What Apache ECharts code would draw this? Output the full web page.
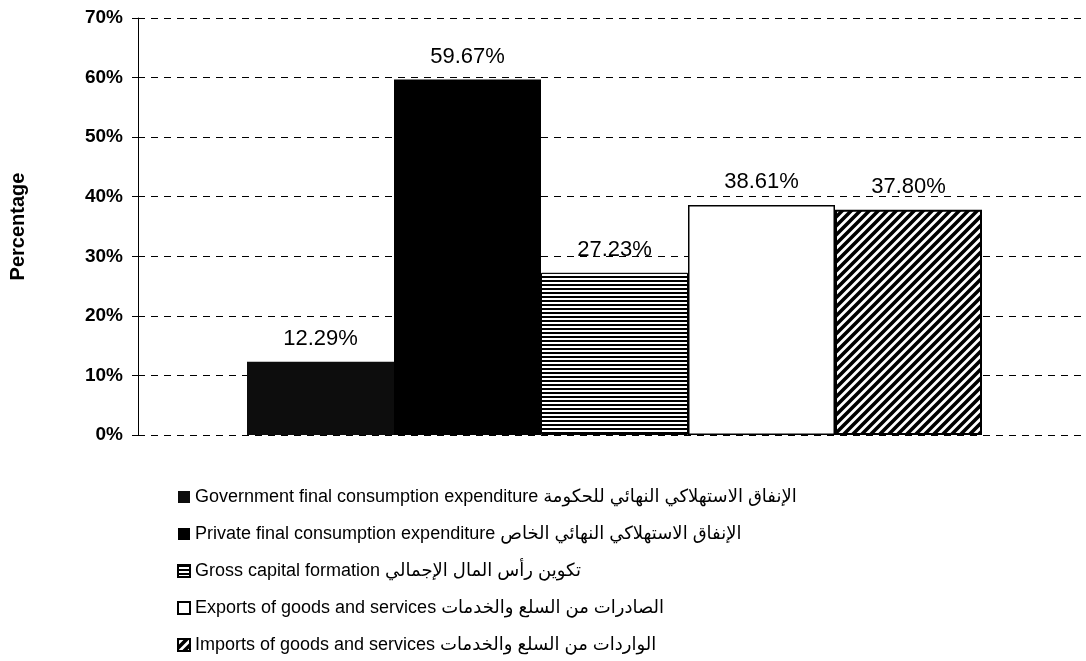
<!DOCTYPE html>
<html>
<head>
<meta charset="utf-8">
<script src="https://cdn.jsdelivr.net/npm/echarts@6/dist/echarts.min.js"></script>
<style>
  html, body { margin: 0; padding: 0; background: #fff; overflow: hidden; }
  /* canvas slightly wider than the window so the dashed grid lines run to the edge */
  #chart { width: 1096px; height: 661px; }
</style>
</head>
<body>
<div id="chart"></div>
<script>
// Components of expenditure as a share of GDP
const seriesNames = [
  'Government final consumption expenditure الإنفاق الاستهلاكي النهائي للحكومة',
  'Private final consumption expenditure الإنفاق الاستهلاكي النهائي الخاص',
  'Gross capital formation تكوين رأس المال الإجمالي',
  'Exports of goods and services الصادرات من السلع والخدمات',
  'Imports of goods and services الواردات من السلع والخدمات'
];
const shares = [12.29, 59.67, 27.23, 38.61, 37.80];
const yTicks = [0, 10, 20, 30, 40, 50, 60, 70];

const FONT = 'Arial, "Liberation Sans", "DejaVu Sans", sans-serif';

// Fill patterns for the bars
function stripePattern() {
  const c = document.createElement('canvas');
  c.width = 4; c.height = 4;
  const g = c.getContext('2d');
  g.fillStyle = '#fff'; g.fillRect(0, 0, 4, 4);
  g.fillStyle = '#000'; g.fillRect(0, 0, 4, 2);
  return c;
}
function hatchPattern() {
  const s = 9;
  const c = document.createElement('canvas');
  c.width = s; c.height = s;
  const g = c.getContext('2d');
  g.fillStyle = '#fff'; g.fillRect(0, 0, s, s);
  g.strokeStyle = '#000'; g.lineWidth = 3.6;
  g.beginPath();
  g.moveTo(-2, 2); g.lineTo(2, -2);
  g.moveTo(0, s); g.lineTo(s, 0);
  g.moveTo(s - 2, s + 2); g.lineTo(s + 2, s - 2);
  g.stroke();
  return c;
}

const styles = [
  { color: '#0d0d0d' },
  { color: '#000' },
  { color: { image: stripePattern(), repeat: 'repeat' }, borderColor: '#000', borderWidth: 1 },
  { color: '#fff', borderColor: '#000', borderWidth: 1.5 },
  { color: { image: hatchPattern(), repeat: 'repeat' }, borderColor: '#000', borderWidth: 2 }
];

const chart = echarts.init(document.getElementById('chart'), null, { renderer: 'canvas' });

chart.setOption({
  animation: false,
  backgroundColor: '#fff',
  textStyle: { fontFamily: FONT },
  grid: { left: 137, right: 5, top: 18, bottom: 226, containLabel: false },
  legend: {
    orient: 'vertical',
    left: 172,
    top: 483,
    itemWidth: 12,
    itemHeight: 12,
    itemGap: 19,
    icon: 'rect',
    data: seriesNames,
    textStyle: { fontFamily: FONT, fontSize: 18, color: '#000' }
  },
  xAxis: {
    type: 'category',
    data: [''],
    axisLine: { show: false },
    axisTick: { show: false },
    axisLabel: { show: false }
  },
  yAxis: {
    type: 'value',
    min: yTicks[0],
    max: yTicks[yTicks.length - 1],
    interval: 10,
    name: 'Percentage',
    nameLocation: 'middle',
    nameRotate: 90,
    nameGap: 110,
    nameTextStyle: { fontFamily: FONT, fontSize: 20, fontWeight: 'bold', color: '#000' },
    axisLine: { show: true, lineStyle: { color: '#000', width: 1 } },
    axisTick: { show: true, inside: false, length: 6, lineStyle: { color: '#000' } },
    axisLabel: {
      formatter: '{value}%',
      margin: 15,
      fontFamily: FONT, fontSize: 19, fontWeight: 'bold', color: '#000'
    },
    splitLine: { show: true, lineStyle: { color: '#000', width: 1, type: [7, 6] } }
  },
  series: seriesNames.map((name, i) => ({
    name,
    type: 'bar',
    barWidth: 147,
    barGap: '0%',
    data: [shares[i]],
    itemStyle: styles[i],
    label: {
      show: true,
      position: 'top',
      distance: 12,
      formatter: p => p.value.toFixed(2) + '%',
      fontFamily: FONT,
      fontSize: 22,
      color: '#000'
    }
  }))
});
</script>
</body>
</html>
